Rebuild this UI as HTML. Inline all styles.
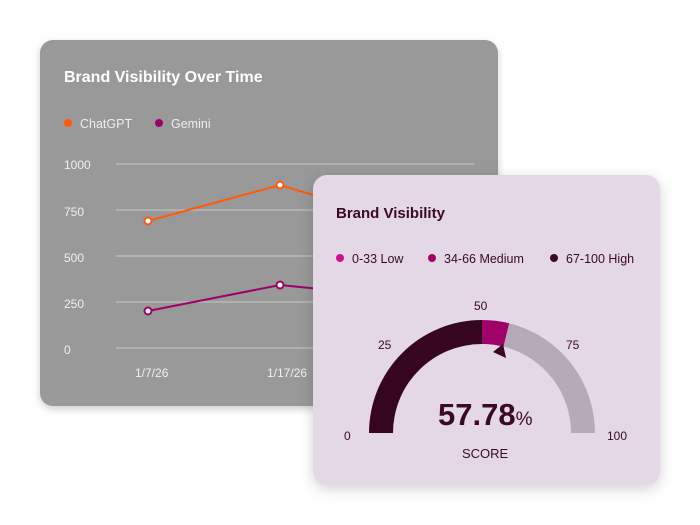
<!DOCTYPE html>
<html><head><style>
body{margin:0;width:700px;height:525px;background:#fff;position:relative;overflow:hidden;font-family:"Liberation Sans",sans-serif}
.c1{position:absolute;left:40px;top:40px;width:458px;height:366px;background:#999;border-radius:13px;box-shadow:0 3px 8px rgba(0,0,0,.2)}
.c2{position:absolute;left:313px;top:175px;width:347px;height:310px;background:#e4d8e6;border-radius:14px;box-shadow:0 4px 14px rgba(0,0,0,.18)}
svg{position:absolute;left:0;top:0}
</style></head><body>
<div class="c1"></div>
<svg width="700" height="525" style="z-index:1">
<g font-family="Liberation Sans,sans-serif">
<text x="64" y="82" fill="#fff" font-size="16" font-weight="bold">Brand Visibility Over Time</text>
<circle cx="68" cy="123" r="4" fill="#ff5a0a"/><text x="80" y="128" fill="#eee" font-size="12.5">ChatGPT</text>
<circle cx="159" cy="123" r="4" fill="#a0006a"/><text x="171" y="128" fill="#eee" font-size="12.5">Gemini</text>
<g stroke="#c8c8c8" stroke-width="1"><line x1="116" y1="164" x2="474" y2="164"/><line x1="116" y1="210" x2="474" y2="210"/><line x1="116" y1="256" x2="474" y2="256"/><line x1="116" y1="302" x2="474" y2="302"/><line x1="116" y1="348" x2="474" y2="348"/></g>
<g fill="#f0f0f0" font-size="12"><text x="64" y="169">1000</text><text x="64" y="216">750</text><text x="64" y="262">500</text><text x="64" y="308">250</text><text x="64" y="354">0</text>
<text x="135" y="377">1/7/26</text><text x="267" y="377">1/17/26</text></g>
<polyline points="148,221 280,185 330,200" fill="none" stroke="#ff5a0a" stroke-width="2"/>
<polyline points="148,311 280,285 330,290" fill="none" stroke="#a0006a" stroke-width="2"/>
<circle cx="148" cy="221" r="3.5" fill="#fff" stroke="#ff5a0a" stroke-width="2"/><circle cx="280" cy="185" r="3.5" fill="#fff" stroke="#ff5a0a" stroke-width="2"/>
<circle cx="148" cy="311" r="3.5" fill="#fff" stroke="#a0006a" stroke-width="2"/><circle cx="280" cy="285" r="3.5" fill="#fff" stroke="#a0006a" stroke-width="2"/>
</g></svg>
<div class="c2" style="z-index:2"></div>
<svg width="700" height="525" style="z-index:3">
<g font-family="Liberation Sans,sans-serif" fill="#3a0a24">
<text x="336" y="218" font-size="15" font-weight="bold">Brand Visibility</text>
<circle cx="340" cy="258" r="4" fill="#d4108a"/><text x="352" y="263" font-size="12.5">0-33 Low</text>
<circle cx="432" cy="258" r="4" fill="#a0006a"/><text x="444" y="263" font-size="12.5">34-66 Medium</text>
<circle cx="554" cy="258" r="4" fill="#3a0a24"/><text x="566" y="263" font-size="12.5">67-100 High</text>
<text x="474" y="310" font-size="12">50</text><text x="378" y="349" font-size="12">25</text><text x="566" y="349" font-size="12">75</text>
<text x="344" y="440" font-size="12">0</text><text x="607" y="440" font-size="12">100</text>
<!-- gauge center 482,433 R 113 r 89 -->
<path d="M369 433 A113 113 0 0 1 482 320 L482 344 A89 89 0 0 0 393 433 Z" fill="#360620"/>
<path d="M482 320 A113 113 0 0 1 509.3 323.3 L503.5 346.6 A89 89 0 0 0 482 344 Z" fill="#a0006a"/>
<path d="M509.3 323.3 A113 113 0 0 1 595 433 L571 433 A89 89 0 0 0 503.5 346.6 Z" fill="#b6aab8"/>
<path d="M503 344 L493 352 L506 358 Z" fill="#360620"/>
<text x="438" y="425" font-size="31" font-weight="bold">57.78<tspan font-size="19" font-weight="normal">%</tspan></text>
<text x="462" y="458" font-size="13">SCORE</text>
</g></svg>
</body></html>
